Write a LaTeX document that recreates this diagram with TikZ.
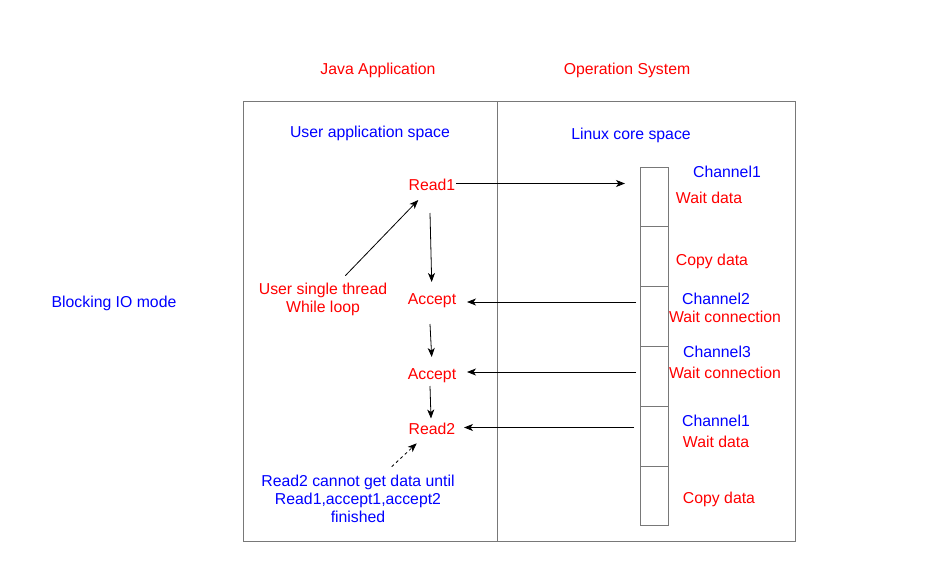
\documentclass[tikz,border=0pt]{standalone}
\usepackage{fontspec}
\setmainfont{Liberation Sans}
\usetikzlibrary{arrows.meta}
\definecolor{dred}{RGB}{255,0,0}
\definecolor{dblue}{RGB}{0,0,255}
\definecolor{bgray}{RGB}{120,120,120}
\begin{document}
\begin{tikzpicture}[x=1pt,y=-1pt,
  txt/.style={inner sep=0pt,yshift=-1.2pt,font=\fontsize{15.8}{18}\selectfont,align=center},
  rtxt/.style={txt,text=dred},
  btxt/.style={txt,text=dblue},
  cell/.style={draw=bgray,line width=0.8pt,minimum width=28pt,minimum height=59.8pt,inner sep=0pt},
  arr/.style={draw=black,line width=0.8pt,-{Stealth[length=9pt,width=7pt,inset=2.5pt]}},
  darr/.style={arr,dashed,dash pattern=on 3pt off 3pt}]
\useasboundingbox (0,0) rectangle (934,586);
% frame
\draw[bgray,line width=0.8pt] (243,101) rectangle (795,541);
\draw[bgray,line width=0.8pt] (497,101) -- (497,541);
% headings
\node[rtxt] (java) at (378,69) {Java Application};
\node[rtxt] (os) at (627,69) {Operation System};
\node[btxt] (mode) at (114,302) {Blocking IO mode};
\node[btxt] (uas) at (370,132) {User application space};
\node[btxt] (lcs) at (631,134) {Linux core space};
% channel cells
\foreach \i in {1,...,6}{
  \node[cell] (c\i) at (654,{167+29.9+59.8*(\i-1)}) {};
}
% right labels
\node[btxt] (ch1) at (727,171) {Channel1};
\node[rtxt] (wd1) at (709,197) {Wait data};
\node[rtxt] (cd1) at (712,260) {Copy data};
\node[btxt] (ch2) at (716,298) {Channel2};
\node[rtxt] (wc2) at (725,316) {Wait connection};
\node[btxt] (ch3) at (717,351) {Channel3};
\node[rtxt] (wc3) at (725,372) {Wait connection};
\node[btxt] (ch1b) at (716,420) {Channel1};
\node[rtxt] (wd1b) at (716,441) {Wait data};
\node[rtxt] (cd1b) at (719,498) {Copy data};
% left flow
\node[rtxt] (read1) at (432,184) {Read1};
\node[rtxt] (acc1) at (432,300) {Accept};
\node[rtxt] (acc2) at (432,375) {Accept};
\node[rtxt] (read2) at (432,428) {Read2};
\node[rtxt] (loop) at (323,298) {User single thread\\While loop};
\node[btxt] (note) at (358,498) {Read2 cannot get data until\\Read1,accept1,accept2\\finished};
% connector ends
\coordinate (r1e) at (456,183.5);
\coordinate (r1t) at (625,183.5);
\coordinate (a1s) at (636,302);
\coordinate (a1t) at (467,302);
\coordinate (a2s) at (636,372);
\coordinate (a2t) at (467,372);
\coordinate (r2s) at (634,427.5);
\coordinate (r2t) at (464,427.5);
\coordinate (d1s) at (430,213);
\coordinate (d1t) at (431.7,282);
\coordinate (d2s) at (430,324);
\coordinate (d2t) at (431.7,357);
\coordinate (d3s) at (430,386);
\coordinate (d3t) at (431,418.5);
\coordinate (ls) at (345.3,275.7);
\coordinate (lt) at (418.3,200);
\coordinate (ns) at (391.7,466.7);
\coordinate (nt) at (416.7,443.3);
% connectors
\draw[arr] (r1e) -- (r1t);
\draw[arr] (a1s) -- (a1t);
\draw[arr] (a2s) -- (a2t);
\draw[arr] (r2s) -- (r2t);
\draw[arr] (d1s) -- (d1t);
\draw[arr] (d2s) -- (d2t);
\draw[arr] (d3s) -- (d3t);
\draw[arr] (ls) -- (lt);
\draw[darr] (ns) -- (nt);
\end{tikzpicture}
\end{document}
